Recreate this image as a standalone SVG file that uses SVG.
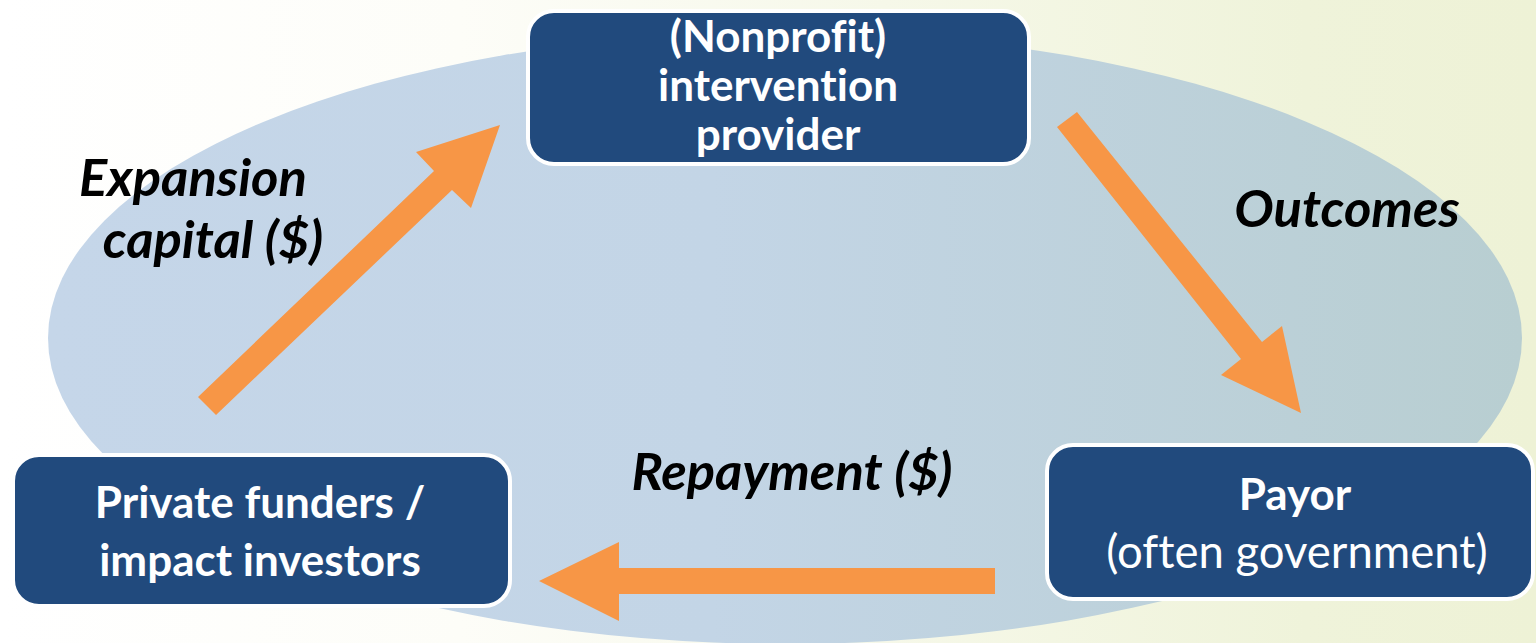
<svg xmlns="http://www.w3.org/2000/svg" width="1536" height="643" viewBox="0 0 1536 643">
  <defs>
    <linearGradient id="bg" x1="0" y1="0" x2="1" y2="0">
      <stop offset="0" stop-color="#ffffff"/>
      <stop offset="0.3" stop-color="#fdfdf8"/>
      <stop offset="0.85" stop-color="#eff3da"/>
      <stop offset="1" stop-color="#eef2d6"/>
    </linearGradient>
    <linearGradient id="ell" x1="0" y1="0" x2="1" y2="0">
      <stop offset="0" stop-color="#c5d6e9"/>
      <stop offset="0.45" stop-color="#c3d5e6"/>
      <stop offset="1" stop-color="#b8ced1"/>
    </linearGradient>
    <style>
      text { font-variant-ligatures: none; font-feature-settings: "liga" 0, "clig" 0; }
      .node { fill: #214a7d; stroke: #ffffff; stroke-width: 4; }
      .nt { font-family: Lato, "Open Sans", "Liberation Sans", sans-serif; font-size: 44px; font-weight: bold; fill: #ffffff; text-anchor: middle; }
      .nr { font-weight: normal; font-size: 45.5px; }
      .lbl { font-family: Lato, "Open Sans", "Liberation Sans", sans-serif; font-size: 52.5px; font-weight: bold; font-style: italic; fill: #000000; text-anchor: middle; }
      .arrow { fill: #f79646; }
    </style>
  </defs>
  <rect x="0" y="0" width="1536" height="643" fill="url(#bg)"/>
  <ellipse cx="785" cy="338" rx="737" ry="306" fill="url(#ell)"/>

  <g id="connectors">
    <polygon class="arrow" points="198,397 434,171 416,152 500,125 471,208 452,190 216,415"/>
    <polygon class="arrow" points="1077,112 1262,342 1282,326 1301,413 1221,375 1241,359 1057,127"/>
    <polygon class="arrow" points="539,581 619,542 619,568 995,568 995,594 619,594 619,621"/>
  </g>

  <g id="labels">
    <text class="lbl" x="193" y="196">Expansion</text>
    <text class="lbl" x="213" y="258">capital ($)</text>
    <text class="lbl" x="1347" y="227">Outcomes</text>
    <text class="lbl" x="792" y="490">Repayment ($)</text>
  </g>

  <g id="node-provider">
    <rect class="node" x="528" y="11" width="501" height="153" rx="26"/>
    <text class="nt" x="778" y="52">(Nonprofit)</text>
    <text class="nt" x="778" y="101">intervention</text>
    <text class="nt" x="778" y="150">provider</text>
  </g>

  <g id="node-funders">
    <rect class="node" x="13" y="455" width="497" height="151" rx="26"/>
    <text class="nt" x="260" y="518">Private funders /</text>
    <text class="nt" x="260" y="576">impact investors</text>
  </g>

  <g id="node-payor">
    <rect class="node" x="1047" y="445" width="486" height="154" rx="26"/>
    <text class="nt" x="1295" y="510">Payor</text>
    <text class="nt nr" x="1297" y="568">(often government)</text>
  </g>
</svg>
